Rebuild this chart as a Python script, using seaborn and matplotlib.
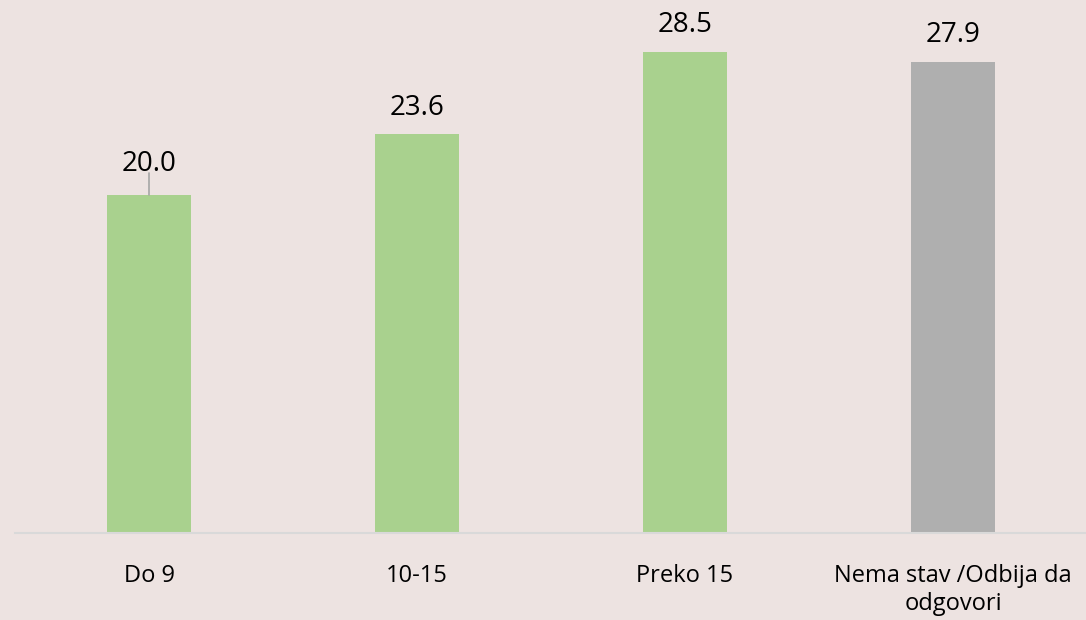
import matplotlib
matplotlib.use("Agg")
import matplotlib.pyplot as plt
import seaborn as sns
import pandas as pd

# Data
categories = ["Do 9", "10-15", "Preko 15", "Nema stav /Odbija da\nodgovori"]
values = [20.0, 23.6, 28.5, 27.9]
bar_colors = ["#A9D18E", "#A9D18E", "#A9D18E", "#AFAFAF"]

bg = "#EDE3E1"

sns.set_theme(style="white")
plt.rcParams["font.family"] = ["Open Sans", "DejaVu Sans"]

df = pd.DataFrame({"cat": categories, "val": values})

fig = plt.figure(figsize=(10.86, 6.2), dpi=100, facecolor=bg)
ax = fig.add_axes([15 / 1086, 1 - 533 / 620, 1072 / 1086, 533 / 620])
ax.set_facecolor(bg)

sns.barplot(data=df, x="cat", y="val", hue="cat", palette=bar_colors,
            width=0.313, saturation=1, legend=False, linewidth=0, ax=ax)

ax.set_xlim(-0.5, 3.5)
ax.set_ylim(0, 31.55)

# value labels
for i, v in enumerate(values):
    if i == 0:
        # label pushed up with a small leader line
        ax.plot([i, i], [v, v + 1.3], color="#A6A6A6", lw=1.2, clip_on=False)
        ax.text(i, v + 1.87, f"{v:.1f}", ha="center", va="center",
                fontsize=20, color="#000000", clip_on=False)
    else:
        ax.text(i, v + 1.58, f"{v:.1f}", ha="center", va="center",
                fontsize=20, color="#000000", clip_on=False)

for side in ["top", "right", "left"]:
    ax.spines[side].set_visible(False)
ax.spines["bottom"].set_color("#D9D9D9")
ax.spines["bottom"].set_linewidth(1.5)

ax.set_yticks([])
ax.set_xlabel("")
ax.set_ylabel("")
ax.tick_params(axis="x", length=0, pad=22, labelsize=17, colors="#000000")
for lbl in ax.get_xticklabels():
    lbl.set_linespacing(1.25)

fig.savefig("out.png", dpi=100, facecolor=bg)
